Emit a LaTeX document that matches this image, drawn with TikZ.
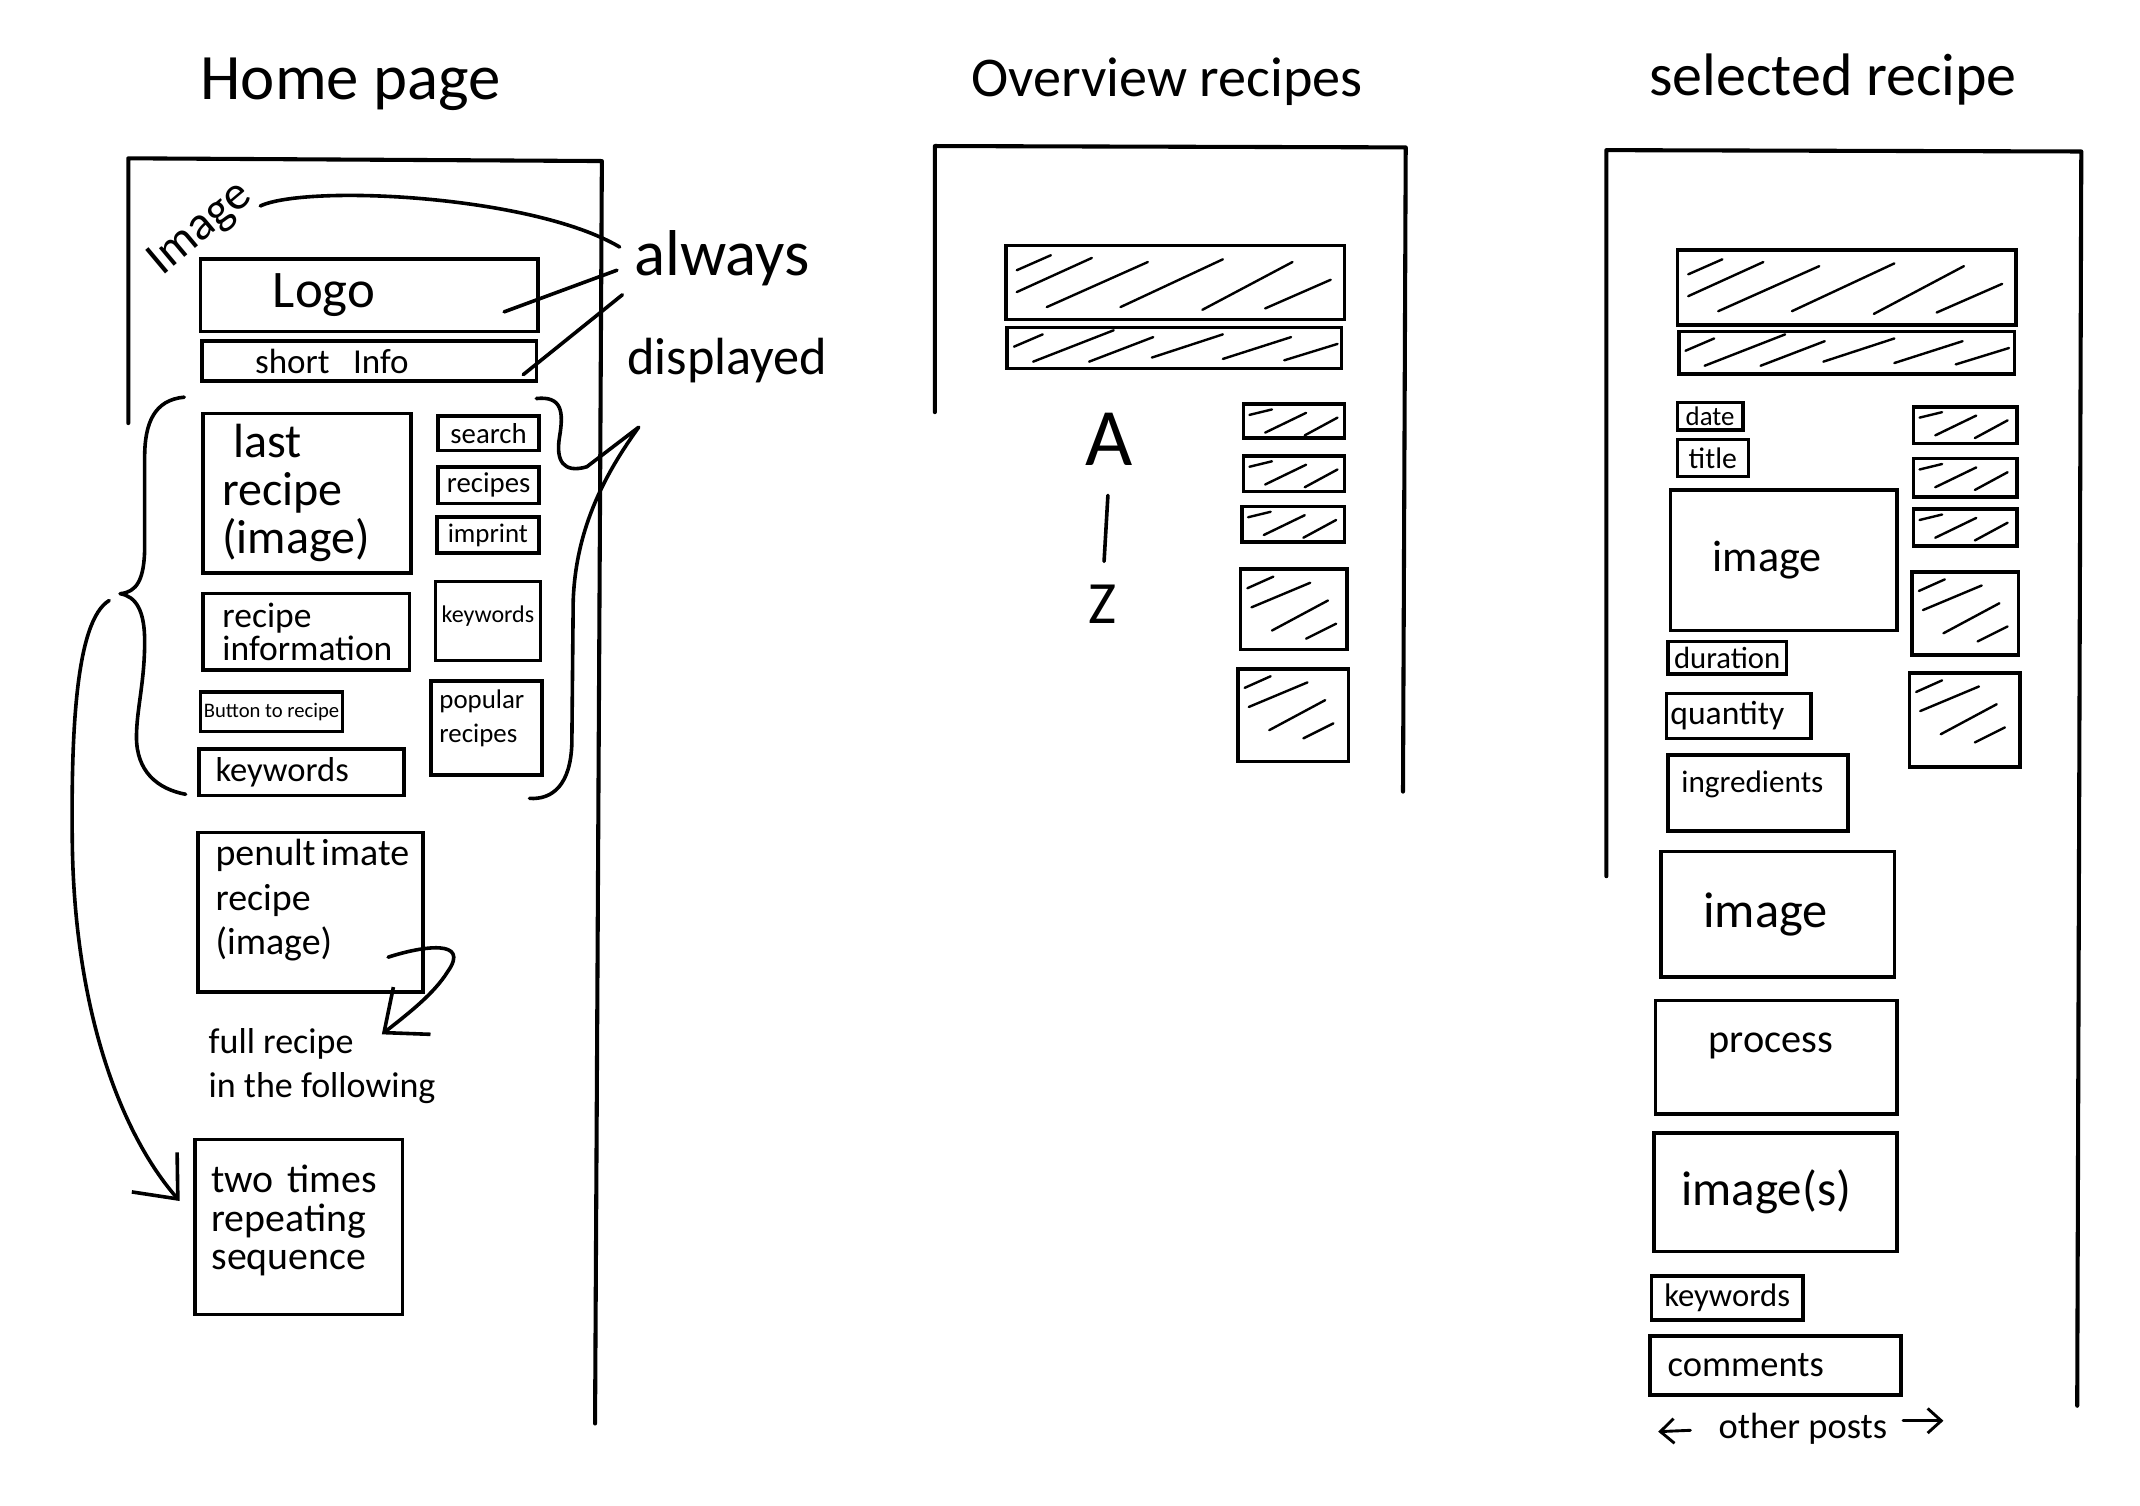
\documentclass[tikz,border=0pt]{standalone}
\usepackage{fontspec}
\setmainfont{Carlito}
\usetikzlibrary{arrows.meta,fit,calc}
\newcommand{\fsz}[2]{\fontsize{#1}{#2}\selectfont}

\begin{document}
\begin{tikzpicture}[
  x=0.01cm, y=-0.01cm,
  sketch/.style={line width=0.75pt, line cap=round, line join=round},
  framestroke/.style={line width=0.85pt, line cap=round, line join=round},
  box/.style={draw, line width=0.75pt, inner sep=0pt, align=center},
  hand/.style={inner sep=0pt, align=left},
  titletext/.style={inner sep=0pt, font=\fsz{13.5}{15}},
  hatchline/.style={line width=0.5pt, line cap=round},
  hatch/.style={path picture={
    \foreach \a/\b/\c/\d in {#1}
      \draw[hatchline] ([shift={(\a,\b)}]path picture bounding box.north west)
        -- ([shift={(\c,\d)}]path picture bounding box.north west);}},
  widebar/.style={box, hatch={8/18/33/7, 8/34/63/9, 30/45/104/12, 84/45/159/10, 144/47/210/12, 190/46/238/25}},
  thinbar/.style={box, hatch={5/14/26/5, 19/25/78/2, 60/25/107/7, 106/22/158/5, 158/23/208/7, 203/24/242/12}},
  smalltile/.style={box, hatch={4.5/8/21/4, 16/21/46/6.5, 45/23/69/10}},
  bigtile/.style={box, hatch={5/14/24/5.5, 8/28/51/10, 23/45/64/23, 48/51/70/40}},
  handarrow/.style={sketch, -{Straight Barb[length=2.6mm, width=4.4mm]}},
  smallarrow/.style={sketch, line width=0.6pt, -{Straight Barb[length=1mm, width=1.8mm]}}
]
\fill[white] (0,0) rectangle (1568,1103);
\useasboundingbox (0,0) rectangle (1568,1103);

% ---------------- home page ----------------
\node[titletext] (homeTitle) at (257,62) {Home page};
\draw[framestroke] (94,310) -- (94,116) -- (441,118) -- (436,1043);

\node[hand, rotate=40, font=\fsz{10}{11}] (imageT) at (147,168) {Image};
\node[hand, font=\fsz{13.5}{15}] (alwaysT) at (529,189) {always};
\node[hand, font=\fsz{10.9}{13}] (displayedT) at (533,264) {displayed};

\node[box, minimum width=2.47cm, minimum height=0.53cm, text width=1.41cm, align=left, font=\fsz{11}{12}] (logo) at (270.5,216.5) {Logo};
\node[box, minimum width=2.45cm, minimum height=0.29cm, text width=1.67cm, align=left, font=\fsz{7.3}{8}] (shortinfo) at (270.5,264.5) {short~~Info};
\node[box, minimum width=1.52cm, minimum height=1.17cm, text width=1.24cm, align=left, font=\fsz{10}{10}] (lastrecipe) at (225,361.5) {\hspace*{0.08cm}last\\recipe\\(image)};
\node[box, minimum width=1.51cm, minimum height=0.56cm, text width=1.23cm, align=left, font=\fsz{7.4}{6.8}] (recipeinfo) at (224.5,463) {recipe\\information};
\node[box, minimum width=1.04cm, minimum height=0.29cm, font=\fsz{4.3}{5}] (button) at (199,521.5) {Button to recipe};
\node[box, minimum width=1.50cm, minimum height=0.34cm, text width=1.26cm, align=left, font=\fsz{7.2}{8}] (keywordsA) at (221,566) {keywords};
\node[box, minimum width=0.74cm, minimum height=0.25cm, font=\fsz{6}{7}] (search) at (358,317.5) {search};
\node[box, minimum width=0.74cm, minimum height=0.27cm, font=\fsz{6}{7}] (recipes) at (358,355.5) {recipes};
\node[box, minimum width=0.75cm, minimum height=0.26cm, font=\fsz{5.6}{7}] (imprint) at (357.5,392) {imprint};
\node[box, minimum width=0.77cm, minimum height=0.58cm, font=\fsz{5}{6}, text depth=3pt] (keywordsB) at (357.5,455) {keywords};
\node[box, minimum width=0.81cm, minimum height=0.69cm, text width=0.69cm, align=left, font=\fsz{5.6}{7.1}, text depth=12pt] (popular) at (356.5,533.5) {popular\\recipes};
\node[box, minimum width=1.65cm, minimum height=1.17cm, text width=1.39cm, align=left, font=\fsz{7.9}{9.3}, text depth=25pt] (penult) at (227.5,668.5) {penult\kern0.15em imate\\recipe\\(image)};
\node[hand, font=\fsz{7.5}{9.1}] (fullT) at (236,781) {full~recipe\\in~the~following};
\node[box, minimum width=1.52cm, minimum height=1.28cm, text width=1.28cm, align=left, font=\fsz{8.3}{8}, text depth=20pt] (twotimes) at (219,899) {two~times\\repeating\\sequence};

% braces round the repeating block
\draw[sketch] (135,291) .. controls (113,293) and (106,310) .. (106,335) -- (106,400)
  .. controls (106,425) and (100,434) .. (88,435) .. controls (100,437) and (106,448) .. (106,470)
  .. controls (106,500) and (100,520) .. (100,540) .. controls (100,565) and (115,578) .. (136,582);
\coordinate (dispTip) at (468,313);
\draw[sketch] (393,292) .. controls (412,290) and (413,302) .. (410,320)
  .. controls (407,338) and (413,347) .. (430,342) -- (dispTip)
  .. controls (445,345) and (422,385) .. (420,440) -- (419,545)
  .. controls (418,575) and (405,586) .. (388,585);

% pointers
\draw[sketch] (imageT.south east) .. controls (225,135) and (390,143) .. ([shift={(-10,-8)}]alwaysT.west);
\draw[sketch] ([shift={(-12,9)}]alwaysT.west) -- ([shift={(-26,12)}]logo.east);
\draw[sketch] ([shift={(-8,27)}]alwaysT.west) -- ([shift={(-11,10)}]shortinfo.east);
\coordinate (braceTip) at (80,440);
\draw[handarrow] (braceTip) .. controls (55,455) and (52,540) .. (53,620)
  .. controls (55,740) and (88,830) .. ([shift={(-10,-19)}]twotimes.west);
\draw[handarrow] ([shift={(-27,-27)}]penult.south east) .. controls (310,693) and (345,688) .. (328,712)
  .. controls (318,728) and (300,742) .. ([shift={(-40,5)}]fullT.north east);

% ---------------- overview recipes ----------------
\node[titletext, font=\fsz{11.7}{14}] (overviewTitle) at (855,60) {Overview recipes};
\draw[framestroke] (685,302) -- (685,107) -- (1030,108) -- (1028,580);
\node[widebar, fit={(737,180) (985,234)}] (ovBarA) {};
\node[thinbar, fit={(738,240) (983,270)}] (ovBarB) {};
\node[hand, font=\fsz{17}{17}] (letterA) at (813,322) {A};
\node[hand, font=\fsz{12.5}{13}] (letterZ) at (808,443) {Z};
\draw[sketch, shorten <=6pt, shorten >=4.8pt] (letterA.south) -- (letterZ.north);
\node[smalltile, fit={(911,296) (985,321)}] (ovTileA) {};
\node[smalltile, fit={(911,334) (985,360)}] (ovTileB) {};
\node[smalltile, fit={(910,371) (985,397)}] (ovTileC) {};
\node[bigtile, fit={(909,417) (987,476)}] (ovTileD) {};
\node[bigtile, fit={(907,490) (988,558)}] (ovTileE) {};

% ---------------- selected recipe ----------------
\node[titletext, font=\fsz{12.5}{14}] (selectedTitle) at (1343,58) {selected recipe};
\draw[framestroke] (1177,642) -- (1177,110) -- (1525,111) -- (1522,1030);
\node[widebar, fit={(1229,183) (1477,238)}] (selBarA) {};
\node[thinbar, fit={(1230,243) (1476,274)}] (selBarB) {};
\node[box, minimum width=0.48cm, minimum height=0.20cm, font=\fsz{5.6}{6}] (date) at (1253,305) {date};
\node[box, minimum width=0.52cm, minimum height=0.27cm, font=\fsz{6.2}{7}] (title) at (1255,335.5) {title};
\node[box, minimum width=1.66cm, minimum height=1.03cm, text width=1.04cm, align=left, font=\fsz{9.2}{10}] (imageA) at (1307,410.5) {image};
\node[box, minimum width=0.87cm, minimum height=0.24cm, font=\fsz{6.4}{7}] (duration) at (1265.5,482) {duration};
\node[box, minimum width=1.06cm, minimum height=0.33cm, text width=1.0cm, align=left, font=\fsz{7}{8}] (quantity) at (1274,524.5) {quantity};
\node[box, minimum width=1.32cm, minimum height=0.56cm, text width=1.12cm, align=left, font=\fsz{6.5}{7}, text depth=4.5pt] (ingredients) at (1288,581) {ingredients};
\node[smalltile, fit={(1402,298) (1478,325)}] (selTileA) {};
\node[smalltile, fit={(1402,336) (1478,364)}] (selTileB) {};
\node[smalltile, fit={(1402,373) (1478,400)}] (selTileC) {};
\node[bigtile, fit={(1401,419) (1479,480)}] (selTileD) {};
\node[bigtile, fit={(1399,493) (1480,562)}] (selTileE) {};
\node[box, minimum width=1.71cm, minimum height=0.92cm, text width=1.09cm, align=left, font=\fsz{10.5}{11}] (imageB) at (1302.5,670) {image};
\node[box, minimum width=1.77cm, minimum height=0.83cm, text width=0.99cm, align=left, font=\fsz{8.4}{9}, text depth=6pt] (process) at (1301.5,774.5) {process};
\node[box, minimum width=1.78cm, minimum height=0.87cm, text width=1.38cm, align=left, font=\fsz{10.2}{11}] (images) at (1301,873.5) {image(s)};
\node[box, minimum width=1.11cm, minimum height=0.32cm, font=\fsz{6.8}{7}] (keywordsC) at (1265.5,951) {keywords};
\node[box, minimum width=1.84cm, minimum height=0.43cm, text width=1.58cm, align=left, font=\fsz{7.6}{8}] (comments) at (1301,1000.5) {comments};
\node[hand, font=\fsz{7.6}{8}] (otherposts) at (1321,1047) {other posts};
\coordinate (prevEnd) at (1215,1049);
\coordinate (nextEnd) at (1424,1041);
\draw[smallarrow] ([shift={(-20,1)}]otherposts.west) -- (prevEnd);
\draw[smallarrow] ([shift={(11,-6)}]otherposts.east) -- (nextEnd);
\end{tikzpicture}
\end{document}
